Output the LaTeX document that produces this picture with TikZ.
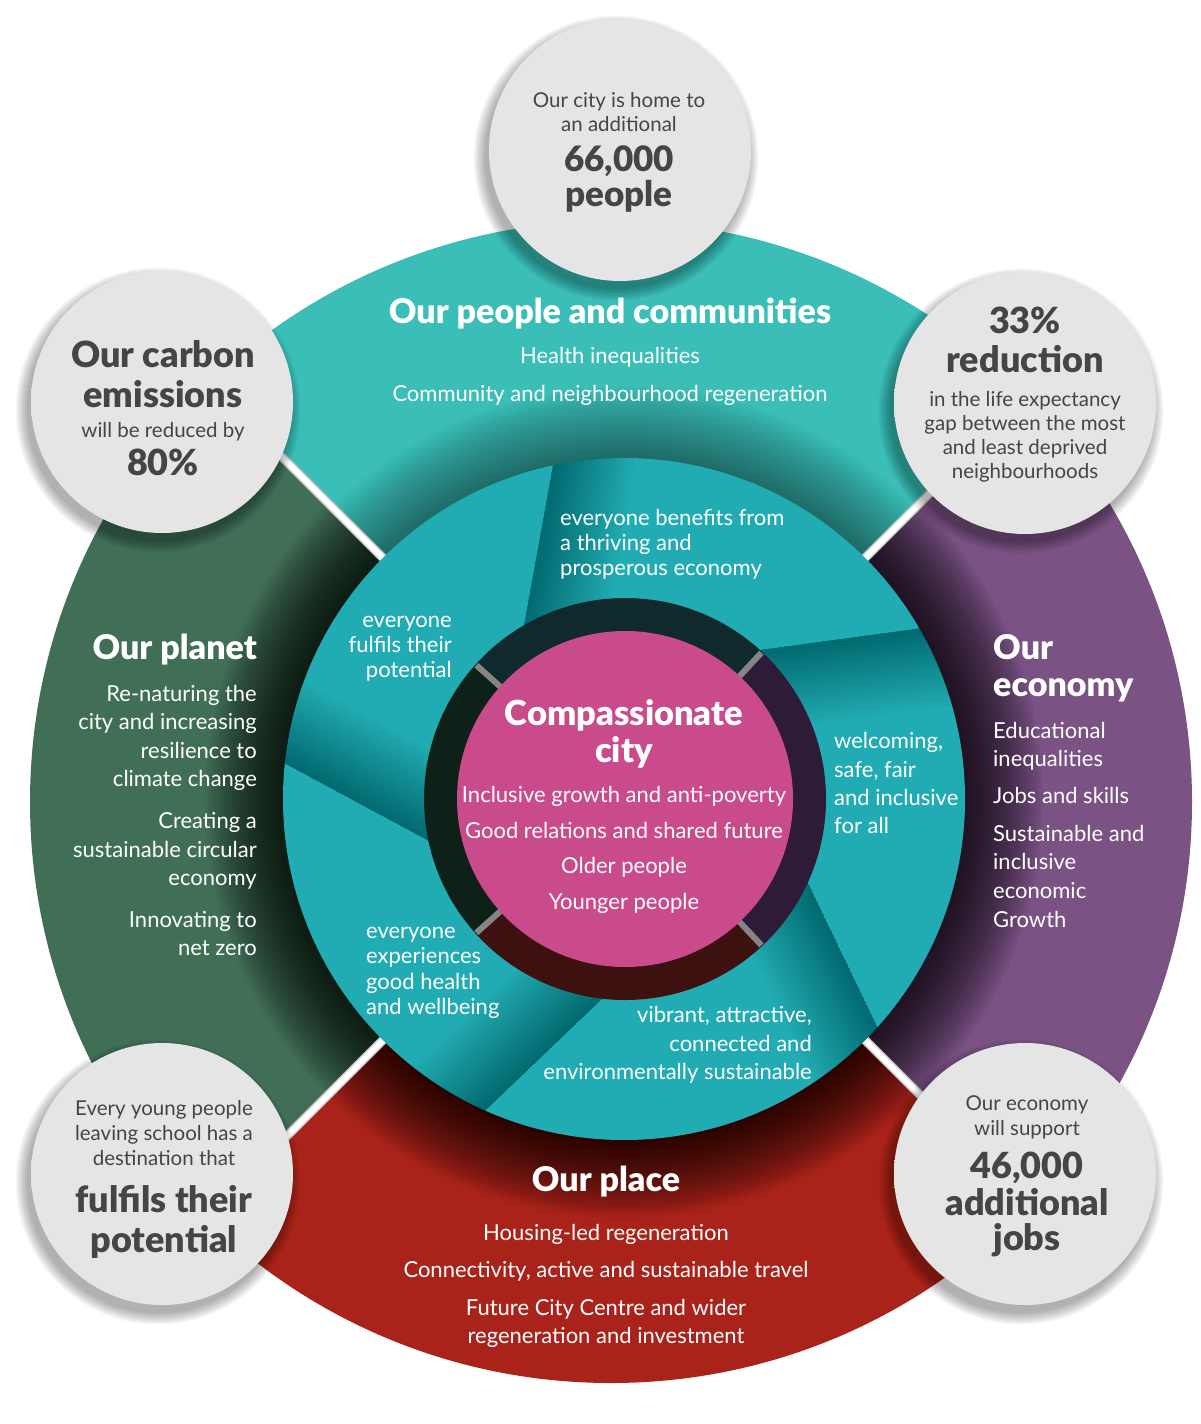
\documentclass[tikz,border=0pt]{standalone}
\usepackage{fontspec}
\setmainfont{Lato}[BoldFont={Lato Black}]
\usetikzlibrary{calc}
\definecolor{tealO}{HTML}{3BBEB8}
\definecolor{tealI}{HTML}{21ABB3}
\definecolor{purp}{HTML}{7A5284}
\definecolor{redc}{HTML}{AA231A}
\definecolor{grn}{HTML}{416F56}
\definecolor{pinkc}{HTML}{CA4B8B}
\definecolor{dkteal}{HTML}{10292C}
\definecolor{dkpurp}{HTML}{2E1B38}
\definecolor{dkred}{HTML}{3D1110}
\definecolor{dkgrn}{HTML}{0E2118}
\definecolor{txtg}{HTML}{454545}
\definecolor{gin}{HTML}{E5E5E5}
\definecolor{gout}{HTML}{D0D0D0}
\definecolor{sepg}{HTML}{C8C8C8}
\definecolor{rsep}{HTML}{858585}
\pgfdeclareradialshading{greyball}{\pgfpoint{0bp}{0bp}}{color(0bp)=(gin); color(32bp)=(gin); color(50bp)=(gout)}
\newcommand\fsz[1]{\fontsize{#1}{#1}\selectfont}
\tikzset{
  every node/.style={inner sep=0pt},
  wt/.style={text=white},
  gt/.style={text=txtg},
  fctitle/.style={font=\bfseries\fsz{34.5}},
  fclist/.style={font=\fsz{22}},
  fring/.style={font=\fsz{22}},
  fhead/.style={font=\bfseries\fsz{34}},
  fitem/.style={font=\fsz{22}},
  fgsm/.style={font=\fsz{20.5}},
  fgbig/.style={font=\bfseries\fsz{36}},
  fgbigt/.style={font=\bfseries\fsz{35}},
  cb/.style={anchor=base},
  lb/.style={anchor=base west},
  rb/.style={anchor=base east},
}
\begin{document}
\begin{tikzpicture}[x=1pt,y=-1pt]
\useasboundingbox (0,0) rectangle (1200,1424);
\fill[white] (0,0) rectangle (1200,1424);
\coordinate (O) at (611,802);
\coordinate (C) at (624,799);
\coordinate (Cd) at (625,799);
% ---------- outer ring ----------
\begin{scope}
  \clip (O) circle[radius=581];
  \fill[tealO] (C) -- ++(-1200,-1200) -- ++(2400,0) -- cycle;
  \fill[purp] (C) -- ++(1200,-1200) -- ++(0,2400) -- cycle;
  \fill[redc] (C) -- ++(1200,1200) -- ++(-2400,0) -- cycle;
  \fill[grn] (C) -- ++(-1200,1200) -- ++(0,-2400) -- cycle;
  \begin{scope}
    \clip (C) -- ++(-1200,-1200) -- ++(2400,0) -- cycle;
    \foreach \k in {1,...,24}{
      \fill[black, fill opacity=0.02] (C) circle[radius={341+3*\k}];
    }
  \end{scope}
  \begin{scope}
    \clip (C) -- ++(1200,-1200) -- ++(0,2400) -- ++(-2400,0) -- ++(0,-2400) -- cycle;
    \foreach \k in {1,...,26}{
      \fill[black, fill opacity=0.042] (C) circle[radius={341+3*\k}];
    }
  \end{scope}
  \foreach \a in {45,135,225,315}{
    \draw[line width=9pt, sepg] (C) -- ++(\a:700);
    \draw[line width=6pt, white] (C) -- ++(\a:700);
  }
\end{scope}
% ---------- inner disk with pinwheel ----------
\fill[tealI] (C) circle[radius=341];
\foreach \k in {0,...,4}{
  \pgfmathsetmacro\th{258+72*\k}
  \pgfmathsetmacro\thq{\th-18}
  \coordinate (P\k) at ($(C)+(\th:341)$);
  \coordinate (Q\k) at ($(C)+(\thq:200)$);
}
\foreach \k in {0,...,4}{
  \pgfmathtruncatemacro\kn{mod(\k+1,5)}
  \pgfmathsetmacro\th{258+72*\k}
  \pgfmathsetmacro\thn{\th+72}
  \pgfmathsetmacro\thq{\th-18}
  \pgfmathsetmacro\thqn{\thn-18}
  \coordinate (Pe) at ($(P\k)!-80pt!(Q\k)$);
  \coordinate (Qe) at ($(Q\k)!-80pt!(P\k)$);
  \begin{scope}
    \clip (P\k) -- (Q\k) arc[start angle=\thq, end angle=\thqn, radius=200] -- (P\kn) arc[start angle=\thn, end angle=\th, radius=341] -- cycle;
    \foreach \j in {1,...,32}{
      \pgfmathsetmacro\dd{2.5*\j}
      \fill[black, fill opacity=0.013] (Pe) -- (Qe) -- ($(Qe)!\dd pt!-90:(Pe)$) -- ($(Pe)!\dd pt!90:(Qe)$) -- cycle;
    }
  \end{scope}
}
% ---------- dark ring ----------
\fill[dkteal] (Cd) -- ($(Cd)+(222:201)$) arc[start angle=222, end angle=313, radius=201] -- cycle;
\fill[dkpurp] (Cd) -- ($(Cd)+(313:201)$) arc[start angle=313, end angle=407, radius=201] -- cycle;
\fill[dkred] (Cd) -- ($(Cd)+(47:201)$) arc[start angle=47, end angle=138, radius=201] -- cycle;
\fill[dkgrn] (Cd) -- ($(Cd)+(138:201)$) arc[start angle=138, end angle=222, radius=201] -- cycle;
\foreach \a in {222,313,47,138}{
  \draw[rsep, line width=6pt] ($(Cd)+(\a:160)$) -- ($(Cd)+(\a:200)$);
}
\fill[pinkc] (Cd) circle[radius=168];
% ---------- grey circles ----------
\foreach \x/\y in {620/150, 162/402, 1025/403, 162/1174, 1025/1174}{
  \foreach \k in {0,...,13}{
    \fill[black, fill opacity=0.022] ({\x-4},{\y+8}) circle[radius={131+\k*0.9}];
  }
  \shade[shading=greyball] (\x,\y) circle[radius=131];
}
% ---------- centre texts ----------
\node[wt,fctitle,cb] (c1) at (624,725) {Compassionate};
\node[wt,fctitle,cb] (c2) at (624,762) {city};
\node[wt,fclist,cb] (c3) at (624,802) {Inclusive growth and anti-poverty};
\node[wt,fclist,cb] (c4) at (624,838) {Good relations and shared future};
\node[wt,fclist,cb] (c5) at (624,873) {Older people};
\node[wt,fclist,cb] (c6) at (624,909) {Younger people};
% ---------- pinwheel texts ----------
\node[wt,fring,lb] (b1) at (560,525) {everyone benefits from};
\node[wt,fring,lb] (b2) at (560,550) {a thriving and};
\node[wt,fring,lb] (b3) at (560,575) {prosperous economy};
\node[wt,fring,rb] (f1) at (452,627) {everyone};
\node[wt,fring,rb] (f2) at (452,652) {fulfils their};
\node[wt,fring,rb] (f3) at (452,677) {potential};
\node[wt,fring,lb] (w1) at (834,748) {welcoming,};
\node[wt,fring,lb] (w2) at (834,777) {safe, fair};
\node[wt,fring,lb] (w3) at (834,805) {and inclusive};
\node[wt,fring,lb] (w4) at (834,833) {for all};
\node[wt,fring,lb] (e1) at (366,938) {everyone};
\node[wt,fring,lb] (e2) at (366,963) {experiences};
\node[wt,fring,lb] (e3) at (366,989) {good health};
\node[wt,fring,lb] (e4) at (366,1014) {and wellbeing};
\node[wt,fring,rb] (v1) at (812,1022) {vibrant, attractive,};
\node[wt,fring,rb] (v2) at (812,1051) {connected and};
\node[wt,fring,rb] (v3) at (812,1079) {environmentally sustainable};
% ---------- outer ring texts ----------
\node[wt,fhead,cb] (pp0) at (610,323) {Our people and communities};
\node[wt,fitem,cb] (pp1) at (610,363) {Health inequalities};
\node[wt,fitem,cb] (pp2) at (610,401) {Community and neighbourhood regeneration};
\node[wt,fhead,rb] (pl0) at (257,659) {Our planet};
\node[wt,fitem,rb] (pl1) at (257,701) {Re-naturing the};
\node[wt,fitem,rb] (pl2) at (257,729) {city and increasing};
\node[wt,fitem,rb] (pl3) at (257,758) {resilience to};
\node[wt,fitem,rb] (pl4) at (257,786) {climate change};
\node[wt,fitem,rb] (pl5) at (257,828) {Creating a};
\node[wt,fitem,rb] (pl6) at (257,857) {sustainable circular};
\node[wt,fitem,rb] (pl7) at (257,885) {economy};
\node[wt,fitem,rb] (pl8) at (257,927) {Innovating to};
\node[wt,fitem,rb] (pl9) at (257,955) {net zero};
\node[wt,fhead,lb] (ec0) at (993,659) {Our};
\node[wt,fhead,lb] (ec1) at (993,696) {economy};
\node[wt,fitem,lb] (ec2) at (993,738) {Educational};
\node[wt,fitem,lb] (ec3) at (993,766) {inequalities};
\node[wt,fitem,lb] (ec4) at (993,803) {Jobs and skills};
\node[wt,fitem,lb] (ec5) at (993,841) {Sustainable and};
\node[wt,fitem,lb] (ec6) at (993,869) {inclusive};
\node[wt,fitem,lb] (ec7) at (993,898) {economic};
\node[wt,fitem,lb] (ec8) at (993,927) {Growth};
\node[wt,fhead,cb] (pc0) at (606,1191) {Our place};
\node[wt,fitem,cb] (pc1) at (606,1240) {Housing-led regeneration};
\node[wt,fitem,cb] (pc2) at (606,1277) {Connectivity, active and sustainable travel};
\node[wt,fitem,cb] (pc3) at (606,1315) {Future City Centre and wider};
\node[wt,fitem,cb] (pc4) at (606,1343) {regeneration and investment};
% ---------- grey circle texts ----------
\node[gt,fgsm,cb] (t1) at (619,107) {Our city is home to};
\node[gt,fgsm,cb] (t2) at (619,131) {an additional};
\node[gt,fgbigt,cb] (t3) at (619,171) {66,000};
\node[gt,fgbigt,cb] (t4) at (619,206) {people};
\node[gt,fgbig,cb] (u1) at (163,367) {Our carbon};
\node[gt,fgbig,cb] (u2) at (163,407) {emissions};
\node[gt,fgsm,cb] (u3) at (163,437) {will be reduced by};
\node[gt,fgbig,cb] (u4) at (163,475) {80\%};
\node[gt,fgbig,cb] (r1) at (1025,333) {33\%};
\node[gt,fgbig,cb] (r2) at (1025,372) {reduction};
\node[gt,fgsm,cb] (r3) at (1025,406) {in the life expectancy};
\node[gt,fgsm,cb] (r4) at (1025,430) {gap between the most};
\node[gt,fgsm,cb] (r5) at (1025,454) {and least deprived};
\node[gt,fgsm,cb] (r6) at (1025,478) {neighbourhoods};
\node[gt,fgsm,cb] (l1) at (164,1115) {Every young people};
\node[gt,fgsm,cb] (l2) at (164,1140) {leaving school has a};
\node[gt,fgsm,cb] (l3) at (164,1165) {destination that};
\node[gt,fgbig,cb] (l4) at (164,1212) {fulfils their};
\node[gt,fgbig,cb] (l5) at (164,1252) {potential};
\node[gt,fgsm,cb] (j1) at (1027,1110) {Our economy};
\node[gt,fgsm,cb] (j2) at (1027,1135) {will support};
\node[gt,fgbig,cb] (j3) at (1027,1178) {46,000};
\node[gt,fgbig,cb] (j4) at (1027,1215) {additional};
\node[gt,fgbig,cb] (j5) at (1027,1250) {jobs};
\end{tikzpicture}
\end{document}
